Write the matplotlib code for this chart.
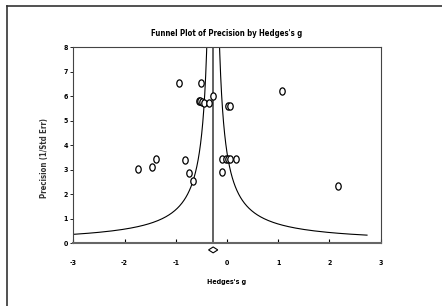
import numpy as np
import matplotlib
matplotlib.use("Agg")
import matplotlib.pyplot as plt
from matplotlib.path import Path
from matplotlib.transforms import Affine2D
from matplotlib.lines import Line2D

# study effects (Hedges's g) and precision (1/SE)
hedges_g = [-0.93, -0.51, -0.28, -0.55, -0.52, -0.48, -0.44, -0.36, 0.01, 0.05,
            1.07, -1.73, -1.47, -1.38, -0.81, -0.74, -0.66, -0.10, -0.01, 0.02,
            0.05, 0.17, -0.09, 2.16]
precision = [6.55, 6.55, 6.01, 5.80, 5.80, 5.77, 5.74, 5.71, 5.62, 5.62,
             6.23, 3.02, 3.13, 3.45, 3.40, 2.88, 2.56, 3.45, 3.45, 3.45,
             3.45, 3.45, 2.90, 2.34]
pooled = -0.27
pooled_lo, pooled_hi = -0.36, -0.18
funnel_width = 1.0
x_ticks = [-3, -2, -1, 0, 1, 2, 3]
y_ticks = [0, 1, 2, 3, 4, 5, 6, 7, 8]

plt.rcParams['font.family'] = ['DejaVu Sans']
plt.rcParams['font.stretch'] = 'condensed'
plt.rcParams['axes.unicode_minus'] = False

fig = plt.figure(figsize=(4.42, 3.06), dpi=100)
ax = fig.add_axes([0.1658, 0.2049, 0.6955, 0.6405])

# outer frame (top and left edges only are visible)
fig.add_artist(Line2D([7/442, 1], [1 - 6/306, 1 - 6/306], color='#333333', lw=1.2))
fig.add_artist(Line2D([7/442, 7/442], [0, 1 - 6/306], color='#333333', lw=1.2))

# funnel
p = np.linspace(0.333, 8, 400)
ax.plot(pooled - funnel_width / p, p, color='black', lw=0.8)
ax.plot(pooled + funnel_width / p, p, color='black', lw=0.8)
ax.axvline(pooled, color='#555555', lw=1.3)

# points
ell = Path.unit_circle().transformed(Affine2D().scale(0.75, 1.0))
ax.plot(hedges_g, precision, linestyle='none', marker=ell, markersize=5.2,
        markerfacecolor='white', markeredgecolor='black', markeredgewidth=0.9)

# pooled estimate diamond under the axis
ax.fill([pooled_lo, pooled, pooled_hi, pooled], [-0.27, -0.15, -0.27, -0.39],
        facecolor='white', edgecolor='black', lw=0.8, clip_on=False, zorder=5)

ax.set_xlim(-3, 3)
ax.set_ylim(0, 8)
ax.set_xticks(x_ticks)
ax.set_yticks(y_ticks)
ax.tick_params(axis='x', direction='in', length=3, width=0.8, pad=12, labelsize=5)
ax.tick_params(axis='y', direction='out', length=2, width=0.6, pad=2, labelsize=5)
for lab in ax.get_xticklabels() + ax.get_yticklabels():
    lab.set_fontweight('bold')
for s in ['top', 'right', 'left']:
    ax.spines[s].set_color('#444444')
    ax.spines[s].set_linewidth(0.8)
ax.spines['bottom'].set_color('#666666')
ax.spines['bottom'].set_linewidth(1.5)

fig.text(227/442, 1 - 34/306, "Funnel Plot of Precision by Hedges's g", ha='center', va='center',
         fontsize=5.6, fontweight='bold')
fig.text(227/442, 1 - 282/306, "Hedges's g", ha='center', va='center', fontsize=5, fontweight='bold')
fig.text(45/442, 1 - 158/306, "Precision (1/Std Err)", ha='center', va='center',
         rotation=90, fontsize=5.6, fontweight='bold', color='#333333')

fig.savefig('out.png', dpi=100)
